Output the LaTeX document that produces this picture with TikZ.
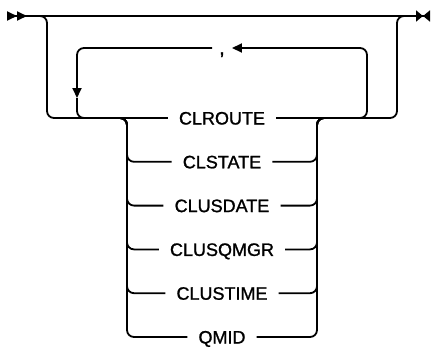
\documentclass[tikz,border=0pt]{standalone}
\usepackage{fontspec}
\setmainfont{Liberation Sans}
\newfontfamily\kwfont{Liberation Sans}[FakeBold=1.2]
\usetikzlibrary{arrows.meta,positioning}

\begin{document}
\begin{tikzpicture}[
  x=1pt, y=1pt,
  rail/.style={line width=1.8pt, rounded corners=7pt},
  kw/.style={font=\kwfont\fontsize{18}{20}\selectfont, inner xsep=11pt, inner ysep=0pt, text height=13pt, text depth=0pt},
  sepsym/.style={kw, font=\kwfont\fontsize{20}{22}\selectfont, inner xsep=7pt},
  node distance=30.4pt
]
\useasboundingbox (0,0) rectangle (436,-349);
% keywords
\node[kw] (clroute) at (222,-118) {CLROUTE};
\node[kw, below=of clroute] (clstate) {CLSTATE};
\node[kw, below=of clstate] (clusdate) {CLUSDATE};
\node[kw, below=of clusdate] (clusqmgr) {CLUSQMGR};
\node[kw, below=of clusqmgr] (clustime) {CLUSTIME};
\node[kw, below=of clustime] (qmid) {QMID};
\node[sepsym] (comma) at (222,-48) {,};
% corners
\coordinate (start) at (7,-16);
\coordinate (stop) at (430,-16);
\coordinate (ol) at (47,-16);
\coordinate (olb) at (47,-118);
\coordinate (lt) at (77,-48);
\coordinate (lb) at (77,-118);
\coordinate (larrow) at (77,-98);
\coordinate (rt) at (367,-48);
\coordinate (rb) at (367,-118);
\coordinate (or) at (397,-16);
\coordinate (orb) at (397,-118);
\coordinate (sl) at (127,-118);
\coordinate (sr) at (317,-118);
% main line
\draw[rail, {Triangle[reversed, length=10pt, width=9pt, sep=0pt]Triangle[reversed, length=10pt, width=9pt, sep=0pt]}-{Triangle[length=7pt, width=11pt, sep=0pt]Triangle[reversed, length=7pt, width=11pt, sep=0pt]}] (start) -- (stop);
\draw[rail] ([xshift=-10]ol) -- (ol) -- (olb) -- (clroute.west);
\draw[rail] (clroute.east) -- (orb) -- (or) -- ([xshift=10]or);
% repeat loop
\draw[rail, -{Triangle[length=10pt, width=9pt]}] (comma.west) -- (lt) -- (larrow);
\draw[rail] (larrow) -- (lb) -- (clroute.west);
\draw[rail, -{Triangle[length=10pt, width=9pt]}] (clroute.east) -- (rb) -- (rt) -- (comma.east);
% choices
\draw[rail] ([xshift=-10]sl) -- (sl) -- (sl |- clstate) -- (clstate.west);
\draw[rail] ([xshift=-10]sl) -- (sl) -- (sl |- clusdate) -- (clusdate.west);
\draw[rail] ([xshift=-10]sl) -- (sl) -- (sl |- clusqmgr) -- (clusqmgr.west);
\draw[rail] ([xshift=-10]sl) -- (sl) -- (sl |- clustime) -- (clustime.west);
\draw[rail] ([xshift=-10]sl) -- (sl) -- (sl |- qmid) -- (qmid.west);
\draw[rail] (clstate.east) -- (sr |- clstate) -- (sr) -- ([xshift=10]sr);
\draw[rail] (clusdate.east) -- (sr |- clusdate) -- (sr) -- ([xshift=10]sr);
\draw[rail] (clusqmgr.east) -- (sr |- clusqmgr) -- (sr) -- ([xshift=10]sr);
\draw[rail] (clustime.east) -- (sr |- clustime) -- (sr) -- ([xshift=10]sr);
\draw[rail] (qmid.east) -- (sr |- qmid) -- (sr) -- ([xshift=10]sr);
\end{tikzpicture}
\end{document}
